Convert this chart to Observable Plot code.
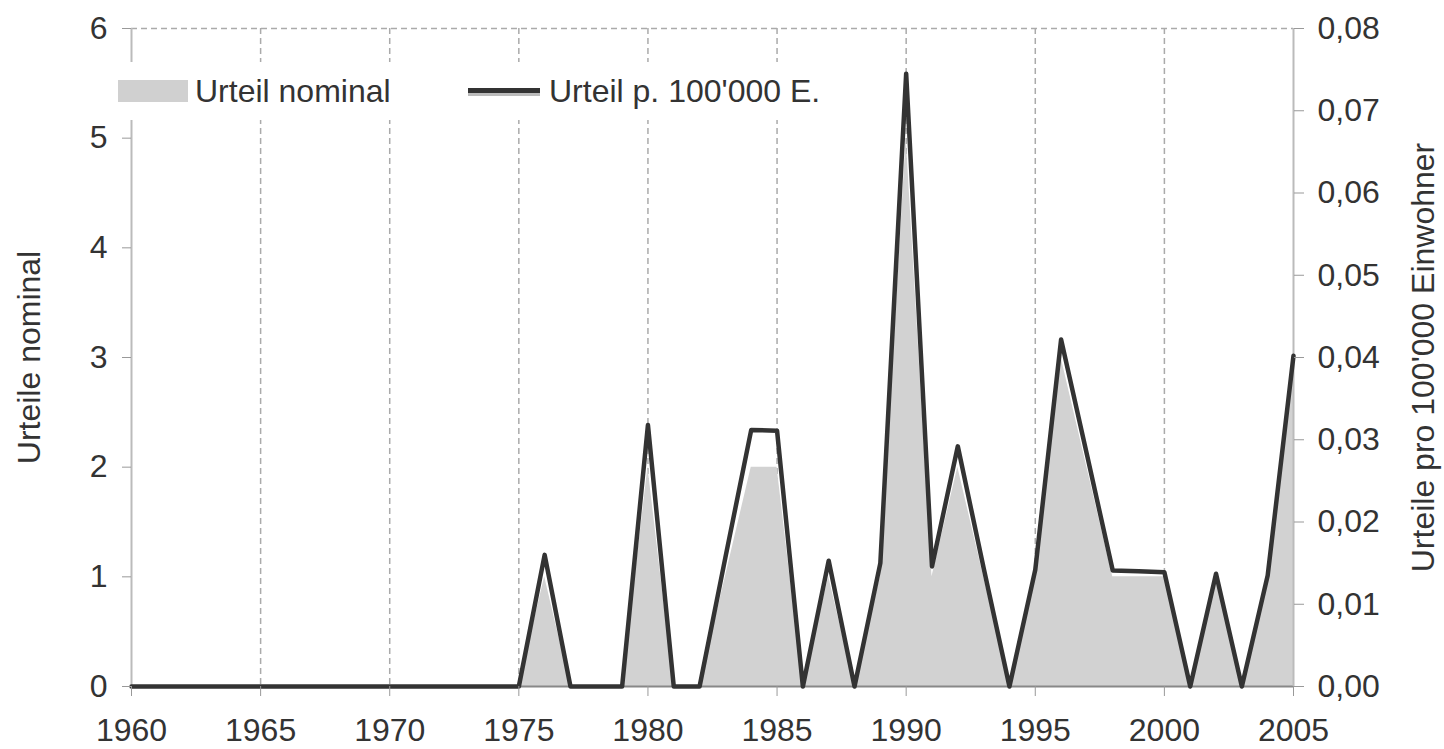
<!DOCTYPE html>
<html><head><meta charset="utf-8">
<script src="https://cdn.jsdelivr.net/npm/d3@7"></script>
<script src="https://cdn.jsdelivr.net/npm/@observablehq/plot@0.6"></script>
<style>
body{margin:0;background:#fff;font-family:"Liberation Sans",Arial,sans-serif;}
#wrap{position:relative;width:1444px;height:749px;overflow:hidden;}
#legend{position:absolute;left:112px;top:62px;width:735px;height:58px;background:#fff;color:#333;font-size:32px;}
#legend .sw1{position:absolute;left:6px;top:18px;width:70px;height:22px;background:#d0d0d0;}
#legend .t1{position:absolute;left:83px;top:10px;line-height:38px;white-space:nowrap;}
#legend .sw2{position:absolute;left:356px;top:26px;width:72px;height:5px;background:#333;border-bottom:3px solid #bbb;}
#legend .t2{position:absolute;left:437px;top:10px;line-height:38px;white-space:nowrap;}
</style></head>
<body><div id="wrap"></div>
<script>
const years = [1960,1961,1962,1963,1964,1965,1966,1967,1968,1969,1970,1971,1972,1973,1974,1975,1976,1977,1978,1979,1980,1981,1982,1983,1984,1985,1986,1987,1988,1989,1990,1991,1992,1993,1994,1995,1996,1997,1998,1999,2000,2001,2002,2003,2004,2005];
const nominal = [0,0,0,0,0,0,0,0,0,0,0,0,0,0,0,0,1,0,0,0,2,0,0,1,2,2,0,1,0,1,5,1,2,1,0,1,3,2,1,1,1,0,1,0,1,3];
const perCapita = [0,0,0,0,0,0,0,0,0,0,0,0,0,0,0,0,0.0160,0,0,0,0.0318,0,0,0.0157,0.0312,0.0311,0,0.0153,0,0.0150,0.0745,0.0146,0.0292,0.0144,0,0.0142,0.0422,0.0282,0.0141,0.0140,0.0139,0,0.0137,0,0.0135,0.0402];
const xTicks = [1960,1965,1970,1975,1980,1985,1990,1995,2000,2005];
const gridYears = [1965,1970,1975,1980,1985,1990,1995,2000];
const leftTicks = [0,1,2,3,4,5,6];
const rightTicks = [0,0.01,0.02,0.03,0.04,0.05,0.06,0.07,0.08];
const leftTitle = "Urteile nominal";
const rightTitle = "Urteile pro 100'000 Einwohner";
const legendLabels = ["Urteil nominal", "Urteil p. 100'000 E."];
const ratio = 6 / 0.08;

const data = years.map((year, i) => ({year, nominal: nominal[i], perCapita: perCapita[i]}));

const chart = Plot.plot({
  width: 1444, height: 749,
  marginLeft: 131, marginRight: 151, marginTop: 28, marginBottom: 63,
  style: {fontFamily: "Liberation Sans, Arial, sans-serif", fontSize: "32px", color: "#333", background: "#fff"},
  x: {domain: [1960, 2005]},
  y: {domain: [0, 6]},
  marks: [
    Plot.gridX(gridYears, {stroke: "#aaa", strokeOpacity: 1, strokeWidth: 1.5, strokeDasharray: "6,4"}),
    Plot.ruleY([6], {stroke: "#aaa", strokeWidth: 1.5, strokeDasharray: "6,4"}),
    Plot.areaY(data, {x: "year", y: "nominal", fill: "#d2d2d2"}),
    Plot.ruleY([0], {stroke: "#888", strokeWidth: 2}),
    Plot.ruleX([1960], {stroke: "#bbb", strokeWidth: 2}),
    Plot.ruleX([2005], {stroke: "#bbb", strokeWidth: 2}),
    Plot.lineY(data, {x: "year", y: d => d.perCapita * ratio, stroke: "#333", strokeWidth: 4.5}),
    Plot.axisX({ticks: xTicks, tickFormat: d => String(d), tickSize: 10, tickPadding: 22, stroke: "#999", fill: "#333", label: null}),
    Plot.axisY({anchor: "left", ticks: leftTicks, tickFormat: d => String(d), tickSize: 9, tickPadding: 15, stroke: "#999", fill: "#333", label: null}),
    Plot.axisY({anchor: "right", ticks: rightTicks.map(v => v * ratio), tickFormat: d => (d / ratio).toFixed(2).replace(".", ","), tickSize: 10, tickPadding: 14, stroke: "#999", fill: "#333", label: null}),
    Plot.text([leftTitle], {frameAnchor: "left", dx: -102, rotate: -90, textAnchor: "middle", fontSize: 32, fill: "#333"}),
    Plot.text([rightTitle], {frameAnchor: "right", dx: 130, rotate: -90, textAnchor: "middle", fontSize: 32, fill: "#333"})
  ]
});
const wrap = document.getElementById("wrap");
wrap.appendChild(chart);
const legend = document.createElement("div");
legend.id = "legend";
legend.innerHTML = `<div class="sw1"></div><div class="t1">${legendLabels[0]}</div><div class="sw2"></div><div class="t2">${legendLabels[1]}</div>`;
wrap.appendChild(legend);
</script>
</body></html>
